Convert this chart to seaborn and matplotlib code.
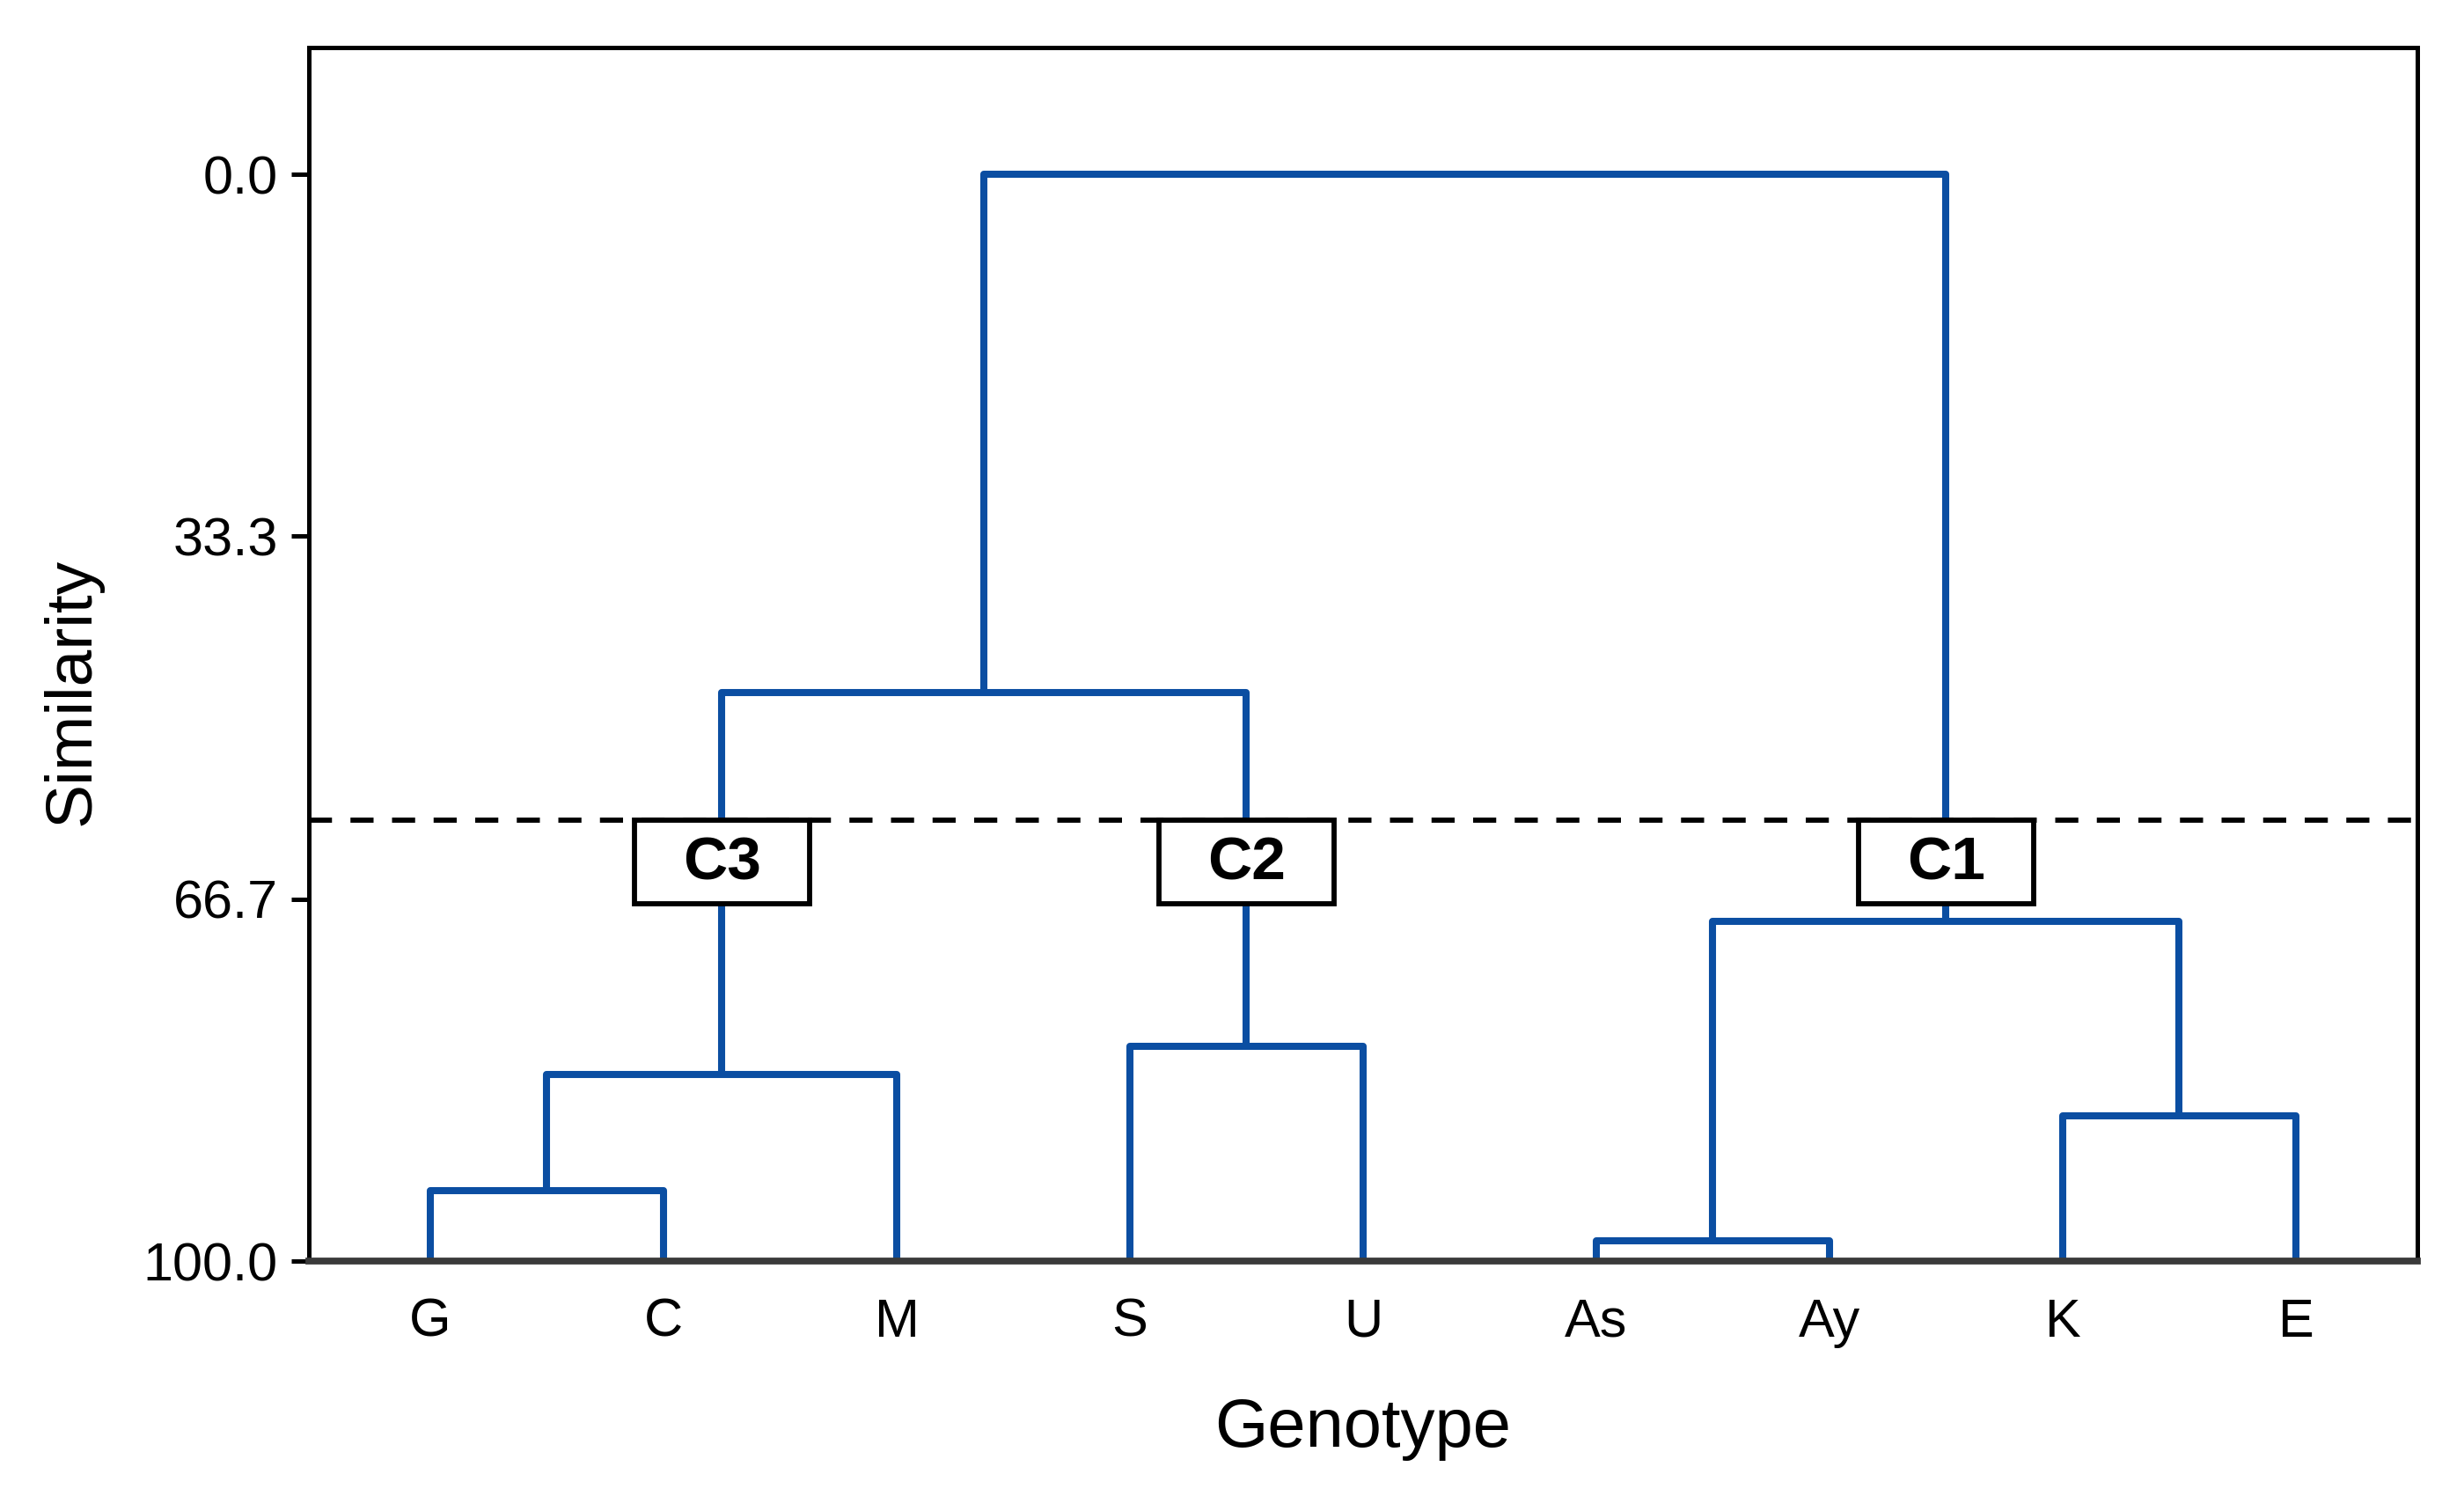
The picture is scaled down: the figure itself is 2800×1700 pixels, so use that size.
import matplotlib
matplotlib.use("Agg")
import matplotlib.pyplot as plt
from matplotlib.patches import Rectangle
import seaborn as sns
import pandas as pd

# ---- data ----
genotypes = ["G", "C", "M", "S", "U", "As", "Ay", "K", "E"]
merge_left = ["G", "GC", "S", "As", "K", "AsAy", "GCM", "GCMSU"]
merge_right = ["C", "M", "U", "Ay", "E", "KE", "SU", "AsAyKE"]
merge_similarity = [93.5, 82.8, 80.2, 98.1, 86.6, 68.7, 47.7, 0.0]
cut_similarity = 59.4
cluster_nodes = ["GCM", "SU", "AsAyKE"]
cluster_labels = ["C3", "C2", "C1"]
y_ticks = [0.0, 33.3, 66.7, 100.0]
y_tick_labels = ["0.0", "33.3", "66.7", "100.0"]

# ---- style ----
sns.set_theme(style="white")
plt.rcParams["font.family"] = ["Liberation Sans", "DejaVu Sans"]

blue = "#0b4ea2"

# build dendrogram link paths
node_x = {g: float(i) for i, g in enumerate(genotypes)}
node_h = {g: 100.0 for g in genotypes}
rows = []
for k, (l, r, h) in enumerate(zip(merge_left, merge_right, merge_similarity)):
    xl, xr = node_x[l], node_x[r]
    pts = [(xl, node_h[l]), (xl, h), (xr, h), (xr, node_h[r])]
    for j, (px, py) in enumerate(pts):
        rows.append({"link": k, "order": j, "x": px, "y": py})
    name = l + r
    node_x[name] = (xl + xr) / 2
    node_h[name] = h
links = pd.DataFrame(rows)

fig = plt.figure(figsize=(14, 8.5), dpi=200)
ax = fig.add_axes([0.1254, 0.157, 0.981 - 0.1254, 0.9682 - 0.157])

sns.lineplot(data=links, x="x", y="y", units="link", estimator=None, sort=False,
             color=blue, linewidth=2.9, ax=ax, legend=False, zorder=2,
             solid_capstyle="butt", solid_joinstyle="round")

ax.axhline(cut_similarity, color="black", linewidth=2.1, dashes=(4.5, 3.6), zorder=3)

box_w = 0.75
box_h = 7.7
for node, lab in zip(cluster_nodes, cluster_labels):
    cx = node_x[node]
    ax.add_patch(Rectangle((cx - box_w / 2, cut_similarity), box_w, box_h,
                           facecolor="white", edgecolor="black", linewidth=2.1,
                           zorder=4))
    ax.text(cx, cut_similarity + box_h / 2 + 0.2, lab, ha="center", va="center",
            fontsize=25, fontweight="bold", color="black", zorder=5)

ax.set_xlim(-0.52, 8.52)
ax.set_ylim(100, -11.66)
ax.set_xticks(range(len(genotypes)))
ax.set_xticklabels(genotypes)
ax.set_yticks(y_ticks)
ax.set_yticklabels(y_tick_labels)

ax.tick_params(axis="x", length=0, pad=15, labelsize=22, colors="black")
ax.tick_params(axis="y", length=7.2, width=1.8, pad=5.5, labelsize=22,
               colors="black", left=True)

ax.set_xlabel("Genotype", fontsize=28, labelpad=20, color="black")
ax.set_ylabel("Similarity", fontsize=27, labelpad=16, color="black")
ax.yaxis.set_label_coords(-0.098, 0.469)

for side in ["left", "top", "right"]:
    ax.spines[side].set_color("black")
    ax.spines[side].set_linewidth(1.8)
    ax.spines[side].set_visible(True)
ax.spines["bottom"].set_color("#3a3a3a")
ax.spines["bottom"].set_linewidth(2.8)
ax.spines["bottom"].set_zorder(6)
ax.grid(False)

fig.savefig("out.png", dpi=200, facecolor="white")
